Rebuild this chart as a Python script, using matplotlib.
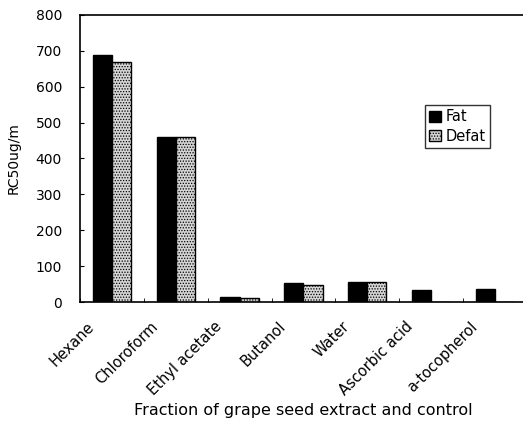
import numpy as np
import matplotlib
matplotlib.use("Agg")
import matplotlib.pyplot as plt

plt.rcParams['font.family'] = ['DejaVu Sans']
plt.rcParams['hatch.color'] = '#555555'
plt.rcParams['hatch.linewidth'] = 0.6

categories = ["Hexane", "Chloroform", "Ethyl acetate", "Butanol", "Water",
              "Ascorbic acid", "a-tocopherol"]
fat = [688, 460, 15, 52, 57, 33, 35]
defat = [668, 460, 12, 47, 55, 0, 0]

fig = plt.figure(figsize=(5.23, 4.23), dpi=100)
ax = fig.add_axes([0.153, 0.286, 0.847, 0.679])

x = np.arange(len(categories))
w = 0.3
ax.bar(x - w / 2, fat, w, color='black', edgecolor='black', linewidth=1, label='Fat')
ax.bar(x + w / 2, defat, w, color='#d4d4d4', edgecolor='black', linewidth=1,
       hatch='......', label='Defat')

ax.set_xlim(-0.5, 6.44)
ax.set_ylim(0, 800)
ax.set_yticks(range(0, 801, 100))
# labels sit a bit left of the group centre, like the original
ax.set_xticks(x - 0.4)
ax.set_xticklabels(categories, rotation=45, ha='right', rotation_mode='anchor', fontsize=10.5)
ax.set_xticks(np.arange(-0.5, 6.5, 1), minor=True)
ax.tick_params(axis='x', which='major', length=0, pad=12)
ax.tick_params(axis='x', which='minor', direction='in', length=3)
ax.tick_params(axis='y', direction='in', length=3, labelsize=10, pad=13)
ax.spines['right'].set_visible(False)
for s in ['left', 'bottom', 'top']:
    ax.spines[s].set_linewidth(1.2)

ax.set_ylabel("RC50ug/m", fontsize=10)
ax.yaxis.set_label_coords(-0.135, 0.5)
ax.set_xlabel("Fraction of grape seed extract and control", fontsize=11.5)
ax.xaxis.set_label_coords(0.503, -0.352)

leg = ax.legend(loc='upper right', bbox_to_anchor=(0.925, 0.686), fontsize=10.5,
                frameon=True, fancybox=False, edgecolor='black', handlelength=0.8,
                handleheight=0.8, handletextpad=0.3, borderpad=0.3, labelspacing=0.3,
                borderaxespad=0)
leg.get_frame().set_linewidth(1)

fig.savefig("out.png", dpi=100)
